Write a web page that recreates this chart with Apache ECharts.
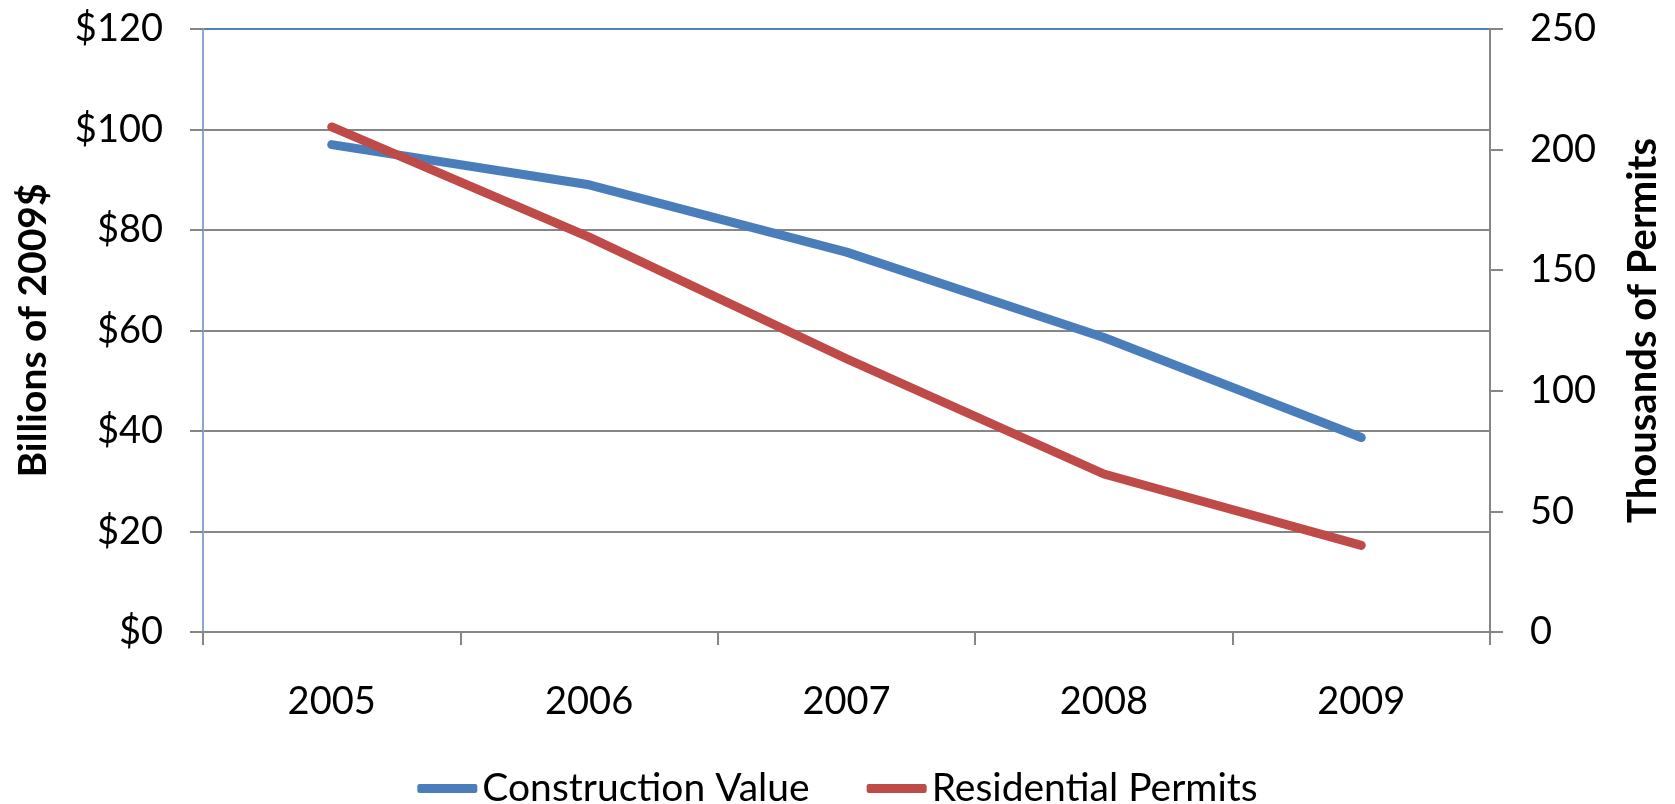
<!DOCTYPE html>
<html>
<head>
<meta charset="utf-8">
<script src="https://cdn.jsdelivr.net/npm/echarts@6/dist/echarts.min.js"></script>
<style>
html,body{margin:0;padding:0;background:#fff;}
#chart{width:1675px;height:804px;}
</style>
</head>
<body>
<div id="chart"></div>
<script>
var years = ['2005', '2006', '2007', '2008', '2009'];
var constructionValue = [97.0, 89.0, 75.6, 58.6, 38.7];
var residentialPermits = [209.4, 163.7, 113.3, 65.5, 35.9];
var leftTicks = { min: 0, max: 120, interval: 20 };
var rightTicks = { min: 0, max: 250, interval: 50 };

var FONT = 'Lato';
var GRID_GREY = '#868686';
var chart = echarts.init(document.getElementById('chart'));
chart.setOption({
  animation: false,
  backgroundColor: '#ffffff',
  grid: { left: 203, right: 185, top: 29, bottom: 172, containLabel: false, outerBoundsMode: 'none' },
  legend: {
    top: 764,
    left: 'center',
    itemWidth: 60,
    itemHeight: 9,
    itemGap: 57,
    icon: 'roundRect',
    textStyle: { fontFamily: FONT, fontSize: 39, color: '#000' },
    data: ['Construction Value', 'Residential Permits']
  },
  xAxis: {
    type: 'category',
    data: years,
    boundaryGap: true,
    axisLine: { lineStyle: { color: GRID_GREY, width: 2 } },
    axisTick: { show: true, inside: false, length: 13, lineStyle: { color: GRID_GREY, width: 2 } },
    axisLabel: { fontFamily: FONT, fontSize: 38, color: '#000', margin: 51 },
    splitLine: { show: false }
  },
  yAxis: [
    {
      type: 'value',
      min: leftTicks.min, max: leftTicks.max, interval: leftTicks.interval,
      name: 'Billions of 2009$',
      nameLocation: 'middle',
      nameGap: 150,
      nameRotate: 90,
      nameTextStyle: { fontFamily: FONT, fontSize: 39, fontWeight: 'bold', color: '#000' },
      axisLine: { show: true, lineStyle: { color: '#8BA6CF', width: 2 } },
      axisTick: { show: true, inside: false, length: 13, lineStyle: { color: GRID_GREY, width: 2 } },
      axisLabel: {
        fontFamily: FONT, fontSize: 38, color: '#000', margin: 40,
        formatter: function (v) { return '$' + v; }
      },
      splitLine: {
        show: true,
        lineStyle: { color: [GRID_GREY, GRID_GREY, GRID_GREY, GRID_GREY, GRID_GREY, GRID_GREY, '#4F81BD'], width: 2 }
      }
    },
    {
      type: 'value',
      position: 'right',
      min: rightTicks.min, max: rightTicks.max, interval: rightTicks.interval,
      name: 'Thousands of Permits',
      nameLocation: 'middle',
      nameGap: 133,
      nameRotate: 90,
      nameTextStyle: { fontFamily: FONT, fontSize: 40, fontWeight: 'bold', color: '#000' },
      axisLine: { show: true, lineStyle: { color: GRID_GREY, width: 2 } },
      axisTick: { show: true, inside: false, length: 13, lineStyle: { color: GRID_GREY, width: 2 } },
      axisLabel: { fontFamily: FONT, fontSize: 38, color: '#000', margin: 40 },
      splitLine: { show: false }
    }
  ],
  series: [
    {
      name: 'Construction Value',
      type: 'line',
      yAxisIndex: 0,
      data: constructionValue,
      showSymbol: false,
      symbol: 'none',
      lineStyle: { color: '#4A7EBB', width: 9, cap: 'round', join: 'round' },
      itemStyle: { color: '#4A7EBB' },
      z: 3
    },
    {
      name: 'Residential Permits',
      type: 'line',
      yAxisIndex: 1,
      data: residentialPermits,
      showSymbol: false,
      symbol: 'none',
      lineStyle: { color: '#BE4B48', width: 9, cap: 'round', join: 'round' },
      itemStyle: { color: '#BE4B48' },
      z: 4
    }
  ]
});
</script>
</body>
</html>
